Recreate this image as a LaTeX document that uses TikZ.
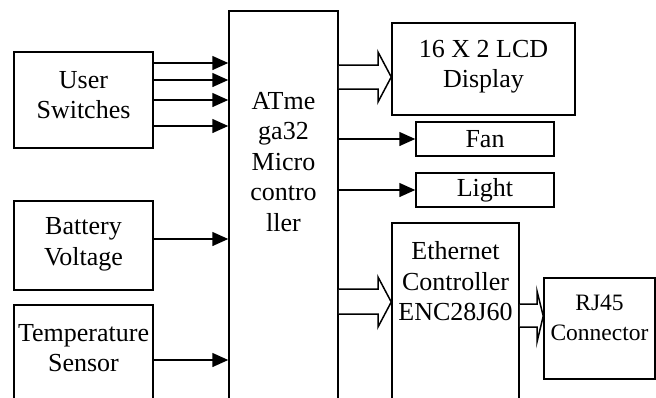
\documentclass[tikz,border=0pt]{standalone}
\usepackage{fontspec}
\setmainfont{Liberation Serif}
\usetikzlibrary{arrows.meta}
\begin{document}
\begin{tikzpicture}[x=1pt,y=-1pt,
  box/.style={draw,line width=1.5pt,fill=none,inner sep=0pt},
  txt/.style={align=center,inner sep=0pt,font=\fontsize{26}{30.5}\selectfont},
  smalltxt/.style={align=center,inner sep=0pt,font=\fontsize{23.5}{30}\selectfont},
  sig/.style={line width=1.5pt,-{Triangle[length=16pt,width=14pt]}},
  bus/.style={line width=1.5pt,fill=white,line join=miter}]
\useasboundingbox (0,0) rectangle (656,397);
\clip (0,0) rectangle (656,397);
% boxes
\node[box,minimum width=139pt,minimum height=96pt] (us) at (83.5,100) {};
\node[box,minimum width=139pt,minimum height=89pt] (bv) at (83.5,245.5) {};
\node[box,minimum width=139pt,minimum height=120pt] (ts) at (83.5,365) {};
\node[box,minimum width=109pt,minimum height=409pt] (mcu) at (283.5,215.5) {};
\node[box,minimum width=183pt,minimum height=92pt] (lcd) at (483.5,69) {};
\node[box,minimum width=138pt,minimum height=34pt] (fan) at (485,139) {};
\node[box,minimum width=138pt,minimum height=34pt] (light) at (485,190) {};
\node[box,minimum width=127pt,minimum height=197pt] (eth) at (455.5,321.5) {};
\node[box,minimum width=111pt,minimum height=101pt] (rj) at (599.5,328.5) {};
% texts
\node[txt] (tus) at (83.5,95) {User\\Switches};
\node[txt] (tbv) at (83.5,244.5) {Battery\\Voltage};
\node[txt] (tts) at (83.5,348) {Temperature\\Sensor};
\node[txt] (tmcu) at (283.5,162) {ATme\\ga32\\Micro\\contro\\ller};
\node[txt] (tlcd) at (483.5,66.5) {16 X 2 LCD\\Display};
\node[txt] (tfan) at (485,139) {Fan};
\node[txt] (tlight) at (485,190) {Light};
\node[txt] (teth) at (455.5,281.5) {Ethernet\\Controller\\ENC28J60};
\node[smalltxt] (trj) at (599.5,317.5) {RJ45\\Connector};
% signal arrows
\foreach \yy in {63,80,100,126}{
  \draw[sig] (us.east |- 0,\yy) -- (mcu.west |- 0,\yy);}
\draw[sig] (bv.east |- 0,239) -- (mcu.west |- 0,239);
\draw[sig] (ts.east |- 0,360) -- (mcu.west |- 0,360);
\draw[sig] (mcu.east |- fan.west) -- (fan.west);
\draw[sig] (mcu.east |- light.west) -- (light.west);
% bus arrows
\draw[bus] (mcu.east |- 0,65) -- (378,65) -- (378,52) -- (lcd.west |- 0,77) -- (378,102) -- (378,89) -- (mcu.east |- 0,89);
\draw[bus] (mcu.east |- 0,289) -- (378,289) -- (378,277) -- (eth.west |- 0,302) -- (378,327) -- (378,314) -- (mcu.east |- 0,314);
\draw[bus] (eth.east |- 0,304) -- (537,304) -- (537,291) -- (rj.west |- 0,316) -- (537,342) -- (537,327) -- (eth.east |- 0,327);
\end{tikzpicture}
\end{document}
